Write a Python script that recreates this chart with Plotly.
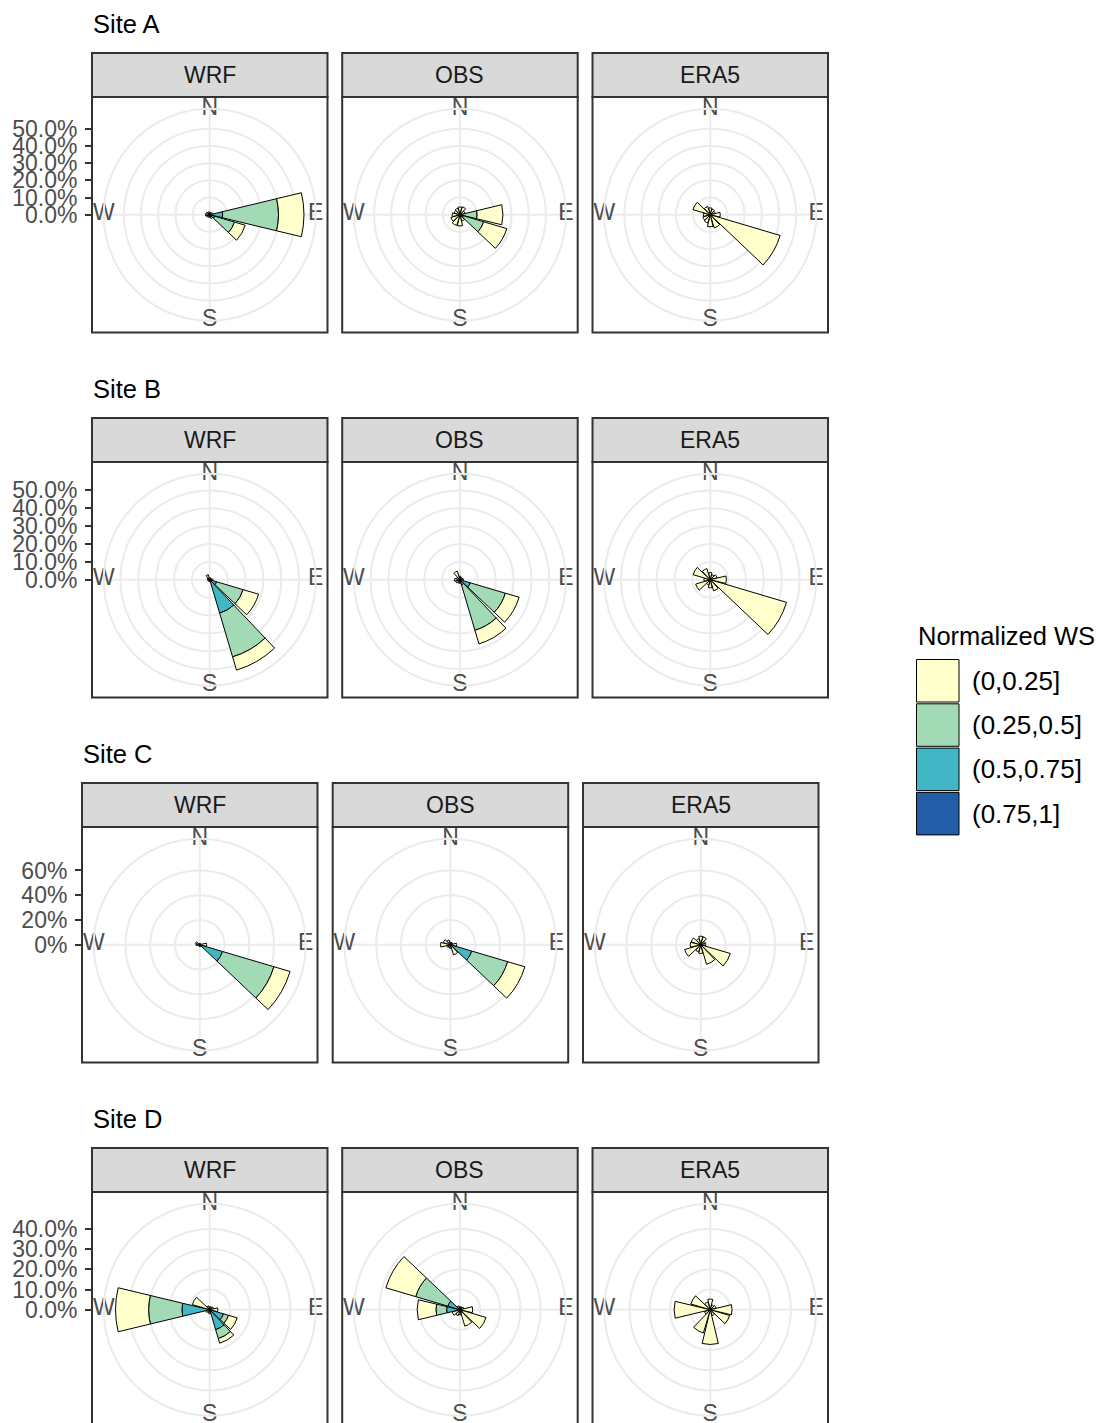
import plotly.graph_objects as go

# ---------------------------------------------------------------------------
# Data: wind-direction frequency (%) per 30-degree sector, split by
# normalized wind-speed class. Each panel array has one row per speed class
# (in SPEED_CLASSES order) and one column per direction in DIRECTIONS.
# ---------------------------------------------------------------------------
DIRECTIONS = [0, 30, 60, 90, 120, 150, 180, 210, 240, 270, 300, 330]
SPEED_CLASSES = ["(0,0.25]", "(0.25,0.5]", "(0.5,0.75]", "(0.75,1]"]
SPEED_COLORS = ["#FFFFCC", "#A1DAB4", "#41B6C4", "#225EA8"]
SOURCES = ["WRF", "OBS", "ERA5"]
SITES = ["Site A", "Site B", "Site C", "Site D"]
COMPASS_ANGLES = [0, 90, 180, 270]
COMPASS_LABELS = ["N", "E", "S", "W"]

site_a_wrf = [
    [1.5, 1.2, 1.5, 14.8, 6.5, 2.0, 1.5, 1.5, 2.0, 2.5, 2.2, 1.8],
    [0, 0, 0.4, 32.5, 12.0, 0.3, 0, 0, 0, 0, 0, 0],
    [0, 0, 0, 7.0, 3.0, 0, 0, 0, 0, 0, 0, 0],
    [0, 0, 0, 0.5, 0, 0, 0, 0, 0, 0, 0, 0],
]
site_a_obs = [
    [4.5, 4.0, 2.5, 15.0, 14.0, 3.5, 6.5, 6.5, 5.5, 4.5, 3.5, 4.0],
    [0, 0.8, 0.5, 9.0, 12.4, 0.3, 0, 0, 0, 0, 0, 0],
    [0, 0, 0, 1.0, 2.0, 0, 0, 0, 0, 0, 0, 0],
    [0, 0, 0, 0, 0, 0, 0, 0, 0, 0, 0, 0],
]
site_a_era5 = [
    [4.0, 3.5, 3.0, 5.8, 42.4, 8.0, 7.0, 5.0, 4.5, 4.0, 10.5, 5.0],
    [0, 0, 0, 0, 0, 0, 0, 0, 0, 0, 0, 0],
    [0, 0, 0, 0, 0, 0, 0, 0, 0, 0, 0, 0],
    [0, 0, 0, 0, 0, 0, 0, 0, 0, 0, 0, 0],
]

site_b_wrf = [
    [1.2, 1.0, 1.0, 1.5, 9.0, 7.7, 1.0, 1.0, 1.0, 1.2, 1.5, 2.5],
    [0, 0, 0, 0, 15.5, 25.5, 0, 0, 0, 0, 0, 0.5],
    [0, 0, 0, 0.3, 4.0, 19.0, 0, 0, 0, 0, 0, 0],
    [0, 0, 0, 0, 0, 0.5, 0, 0, 0, 0, 0, 0],
]
site_b_obs = [
    [2.0, 1.5, 1.5, 2.0, 8.0, 7.9, 2.0, 2.0, 2.5, 3.0, 2.0, 4.5],
    [0, 0, 0, 0, 20.5, 26.5, 0, 0, 0, 0, 0, 0.5],
    [0, 0, 0, 0, 6.0, 3.0, 0, 0, 0, 0, 0, 0],
    [0, 0, 0, 0, 0, 0, 0, 0, 0, 0, 0, 0],
]
site_b_era5 = [
    [4.0, 3.0, 4.0, 9.0, 44.5, 6.5, 4.5, 3.0, 8.5, 3.5, 10.0, 6.5],
    [0, 0, 0, 0, 0, 0, 0, 0, 0, 0, 0, 0],
    [0, 0, 0, 0, 0, 0, 0, 0, 0, 0, 0, 0],
    [0, 0, 0, 0, 0, 0, 0, 0, 0, 0, 0, 0],
]

site_c_wrf = [
    [1.0, 1.0, 1.2, 4.0, 13.6, 1.5, 1.5, 1.0, 1.0, 2.5, 3.5, 1.0],
    [0, 0, 0, 1.0, 43.3, 0, 0, 0, 0, 0.5, 0, 0],
    [0, 0, 0, 0.5, 18.7, 0, 0, 0, 0, 0, 0, 0],
    [0, 0, 0, 0, 0.5, 0, 0, 0, 0, 0, 0, 0],
]
site_c_obs = [
    [2.0, 2.0, 2.0, 4.5, 14.5, 8.0, 3.0, 2.5, 3.0, 7.5, 6.0, 4.0],
    [0, 0, 0, 0.5, 30.2, 0.5, 0, 0, 0, 0.5, 0, 0],
    [0, 0, 0, 0, 17.5, 0, 0, 0, 0, 0, 0, 0],
    [0, 0, 0, 0, 0.5, 0, 0, 0, 0, 0, 0, 0],
]
site_c_era5 = [
    [6.9, 6.7, 4.0, 4.0, 24.9, 16.5, 7.0, 6.0, 13.6, 8.5, 8.0, 5.0],
    [0, 0, 0, 0, 0, 0, 0, 0, 0, 0, 0, 0],
    [0, 0, 0, 0, 0, 0, 0, 0, 0, 0, 0, 0],
    [0, 0, 0, 0, 0, 0, 0, 0, 0, 0, 0, 0],
]

site_d_wrf = [
    [1.5, 1.5, 2.0, 4.0, 4.5, 2.4, 2.0, 1.5, 2.0, 16.4, 9.0, 2.0],
    [0, 0, 0, 0, 2.6, 4.6, 0, 0, 0, 16.5, 0, 0],
    [0, 0, 0, 0, 6.8, 10.0, 0, 0, 0, 12.8, 0, 0],
    [0, 0, 0, 0, 0.3, 0.3, 0, 0, 0, 1.0, 0, 0],
]
site_d_obs = [
    [1.5, 1.5, 2.0, 6.3, 12.0, 7.0, 2.5, 3.0, 4.0, 9.3, 15.4, 2.0],
    [0, 0, 0, 0, 0.5, 0, 0, 0, 0, 5.3, 16.6, 0],
    [0, 0, 0, 0, 1.0, 1.5, 0, 0, 0, 6.1, 5.8, 0],
    [0, 0, 0, 0, 0, 0, 0, 0, 0, 0.5, 0.5, 0],
]
site_d_era5 = [
    [5.3, 2.5, 3.0, 10.8, 10.0, 3.0, 17.2, 12.0, 3.0, 17.9, 10.0, 4.0],
    [0, 0, 0, 0, 0, 0, 0, 0, 0, 0, 0, 0],
    [0, 0, 0, 0, 0, 0, 0, 0, 0, 0, 0, 0],
    [0, 0, 0, 0, 0, 0, 0, 0, 0, 0, 0, 0],
]

SITE_PANELS = [
    [site_a_wrf, site_a_obs, site_a_era5],
    [site_b_wrf, site_b_obs, site_b_era5],
    [site_c_wrf, site_c_obs, site_c_era5],
    [site_d_wrf, site_d_obs, site_d_era5],
]

# radial breaks (percent) and their label precision for each site
radial_ticks_a = [0, 10, 20, 30, 40, 50]
radial_ticks_b = [0, 10, 20, 30, 40, 50]
radial_ticks_c = [0, 20, 40, 60]
radial_ticks_d = [0, 10, 20, 30, 40]
RADIAL_TICKS = [radial_ticks_a, radial_ticks_b, radial_ticks_c, radial_ticks_d]
RADIAL_DECIMALS = [1, 1, 0, 1]

# ---------------------------------------------------------------------------
# Page geometry (pixels)
# ---------------------------------------------------------------------------
FIG_W, FIG_H = 1099, 1423
PANEL = 235.5            # square panel side
STRIP_H = 44             # facet strip height
BAR_FRAC, OUTER_FRAC = 0.40, 0.45   # bar extent / outer grid circle, fraction of panel
R_OUTER_PX = OUTER_FRAC * PANEL
BAR_WIDTH = 27           # degrees per bar (90% of a 30-degree sector)

ROW_PANEL_TOP = [97, 462, 827, 1192]
ROW_COL_LEFT = [
    [92, 342.2, 592.5],
    [92, 342.2, 592.5],
    [82, 332.7, 583],
    [92, 342.2, 592.5],
]

FONT = "Liberation Sans, Arial, Helvetica, sans-serif"
GRID = "#EBEBEB"
DARK = "#333333"
AXIS_TEXT = "#4D4D4D"


def px(x):
    return x / FIG_W


def py(y):
    return 1 - y / FIG_H


fig = go.Figure()
shapes, annotations = [], []
layout_extra = {}

polar_n = 0
for si, site in enumerate(SITES):
    panels = SITE_PANELS[si]
    # shared radial scale across the site's three panels
    rmax = max(sum(col) for panel in panels for col in zip(*panel))
    r_outer = rmax * OUTER_FRAC / BAR_FRAC
    top = ROW_PANEL_TOP[si]
    cy = top + PANEL / 2

    annotations.append(dict(
        x=px(ROW_COL_LEFT[si][0] - 1), y=py(top - STRIP_H - 29), xref="paper", yref="paper",
        text=site, showarrow=False, xanchor="left", yanchor="middle",
        font=dict(family=FONT, size=25.5, color="black"),
    ))

    for ci, source in enumerate(SOURCES):
        polar_n += 1
        pname = "polar" if polar_n == 1 else f"polar{polar_n}"
        left = ROW_COL_LEFT[si][ci]
        cx = left + PANEL / 2
        data = panels[ci]

        # stack from the fastest class outward so the calmest class sits on the rim
        for k in reversed(range(len(SPEED_CLASSES))):
            fig.add_trace(go.Barpolar(
                r=[v if v > 0 else None for v in data[k]],
                theta=DIRECTIONS,
                width=BAR_WIDTH,
                subplot=pname,
                name=SPEED_CLASSES[k],
                marker=dict(color=SPEED_COLORS[k], line=dict(color="black", width=1)),
                showlegend=False,
                hoverinfo="skip",
            ))
        fig.add_trace(go.Scatterpolar(
            r=[r_outer] * len(COMPASS_ANGLES),
            theta=COMPASS_ANGLES,
            text=COMPASS_LABELS,
            mode="text",
            textposition="middle center",
            textfont=dict(family=FONT, size=23, color=AXIS_TEXT),
            cliponaxis=False,
            subplot=pname,
            showlegend=False,
            hoverinfo="skip",
        ))

        layout_extra[pname] = dict(
            domain=dict(x=[px(cx - R_OUTER_PX), px(cx + R_OUTER_PX)],
                        y=[py(cy + R_OUTER_PX), py(cy - R_OUTER_PX)]),
            bgcolor="white",
            barmode="stack",
            radialaxis=dict(
                range=[0, r_outer], tickvals=RADIAL_TICKS[si], showticklabels=False,
                ticks="", showline=False, showgrid=True, gridcolor=GRID, gridwidth=2,
            ),
            angularaxis=dict(
                rotation=90, direction="clockwise", tickvals=COMPASS_ANGLES,
                showticklabels=False, ticks="", showgrid=True, gridcolor=GRID,
                gridwidth=2, showline=True, linecolor=GRID, linewidth=2,
            ),
        )

        # facet strip and panel frame
        shapes.append(dict(type="rect", xref="paper", yref="paper",
                           x0=px(left), x1=px(left + PANEL),
                           y0=py(top), y1=py(top - STRIP_H),
                           fillcolor="#D9D9D9", line=dict(color=DARK, width=2)))
        shapes.append(dict(type="rect", xref="paper", yref="paper",
                           x0=px(left), x1=px(left + PANEL),
                           y0=py(top + PANEL), y1=py(top),
                           fillcolor="rgba(0,0,0,0)", line=dict(color=DARK, width=2)))
        annotations.append(dict(
            x=px(cx), y=py(top - STRIP_H / 2), xref="paper", yref="paper",
            text=source, showarrow=False, xanchor="center", yanchor="middle",
            font=dict(family=FONT, size=23, color="#1A1A1A"),
        ))

    # radial scale drawn as a left-hand axis beside the first panel of the row
    ax_n = si + 1
    xname = "xaxis" if ax_n == 1 else f"xaxis{ax_n}"
    yname = "yaxis" if ax_n == 1 else f"yaxis{ax_n}"
    xref = "x" if ax_n == 1 else f"x{ax_n}"
    yref = "y" if ax_n == 1 else f"y{ax_n}"
    left0 = ROW_COL_LEFT[si][0]
    ticks = RADIAL_TICKS[si]
    tick_text = [f"{v:.{RADIAL_DECIMALS[si]}f}%" for v in ticks]
    # an invisible anchor point so the cartesian axis gets drawn
    fig.add_trace(go.Scatter(
        x=[0.5], y=[ticks[0]], xaxis=xref, yaxis=yref, mode="markers",
        marker=dict(opacity=0), showlegend=False, hoverinfo="skip", cliponaxis=False,
    ))
    layout_extra[xname] = dict(domain=[px(left0), px(left0 + 1)], visible=False,
                               range=[0, 1], fixedrange=True, anchor=yref)
    layout_extra[yname] = dict(
        anchor=xref, domain=[py(cy), py(cy - R_OUTER_PX)], range=[0, r_outer],
        tickmode="array", tickvals=ticks, ticktext=tick_text,
        ticks="outside", ticklen=6, tickwidth=2, tickcolor=DARK,
        ticklabelstandoff=3,
        tickfont=dict(family=FONT, size=23, color=AXIS_TEXT),
        showline=False, showgrid=False, zeroline=False, fixedrange=True,
    )

# legend: speed-class colour keys
LEG_X, LEG_TOP, KEY_PITCH, KEY_SIZE = 916.5, 659.5, 44.3, 42.5
annotations.append(dict(
    x=px(LEG_X - 1), y=py(636), xref="paper", yref="paper", text="Normalized WS",
    showarrow=False, xanchor="left", yanchor="middle",
    font=dict(family=FONT, size=25.5, color="black"),
))
for k, (label, color) in enumerate(zip(SPEED_CLASSES, SPEED_COLORS)):
    y0 = LEG_TOP + k * KEY_PITCH
    shapes.append(dict(type="rect", xref="paper", yref="paper",
                       x0=px(LEG_X), x1=px(LEG_X + KEY_SIZE),
                       y0=py(y0 + KEY_SIZE), y1=py(y0),
                       fillcolor=color, line=dict(color="black", width=1)))
    annotations.append(dict(
        x=px(LEG_X + 53), y=py(y0 + KEY_SIZE / 2), xref="paper", yref="paper",
        text=label, showarrow=False, xanchor="left", yanchor="middle",
        font=dict(family=FONT, size=26, color="black"),
    ))

fig.update_layout(
    template="none",
    width=FIG_W, height=FIG_H, autosize=False,
    margin=dict(l=0, r=0, t=0, b=0),
    paper_bgcolor="white", plot_bgcolor="rgba(0,0,0,0)",
    showlegend=False,
    font=dict(family=FONT, color="black"),
    shapes=shapes, annotations=annotations,
    **layout_extra,
)

fig.write_html("out.html")
